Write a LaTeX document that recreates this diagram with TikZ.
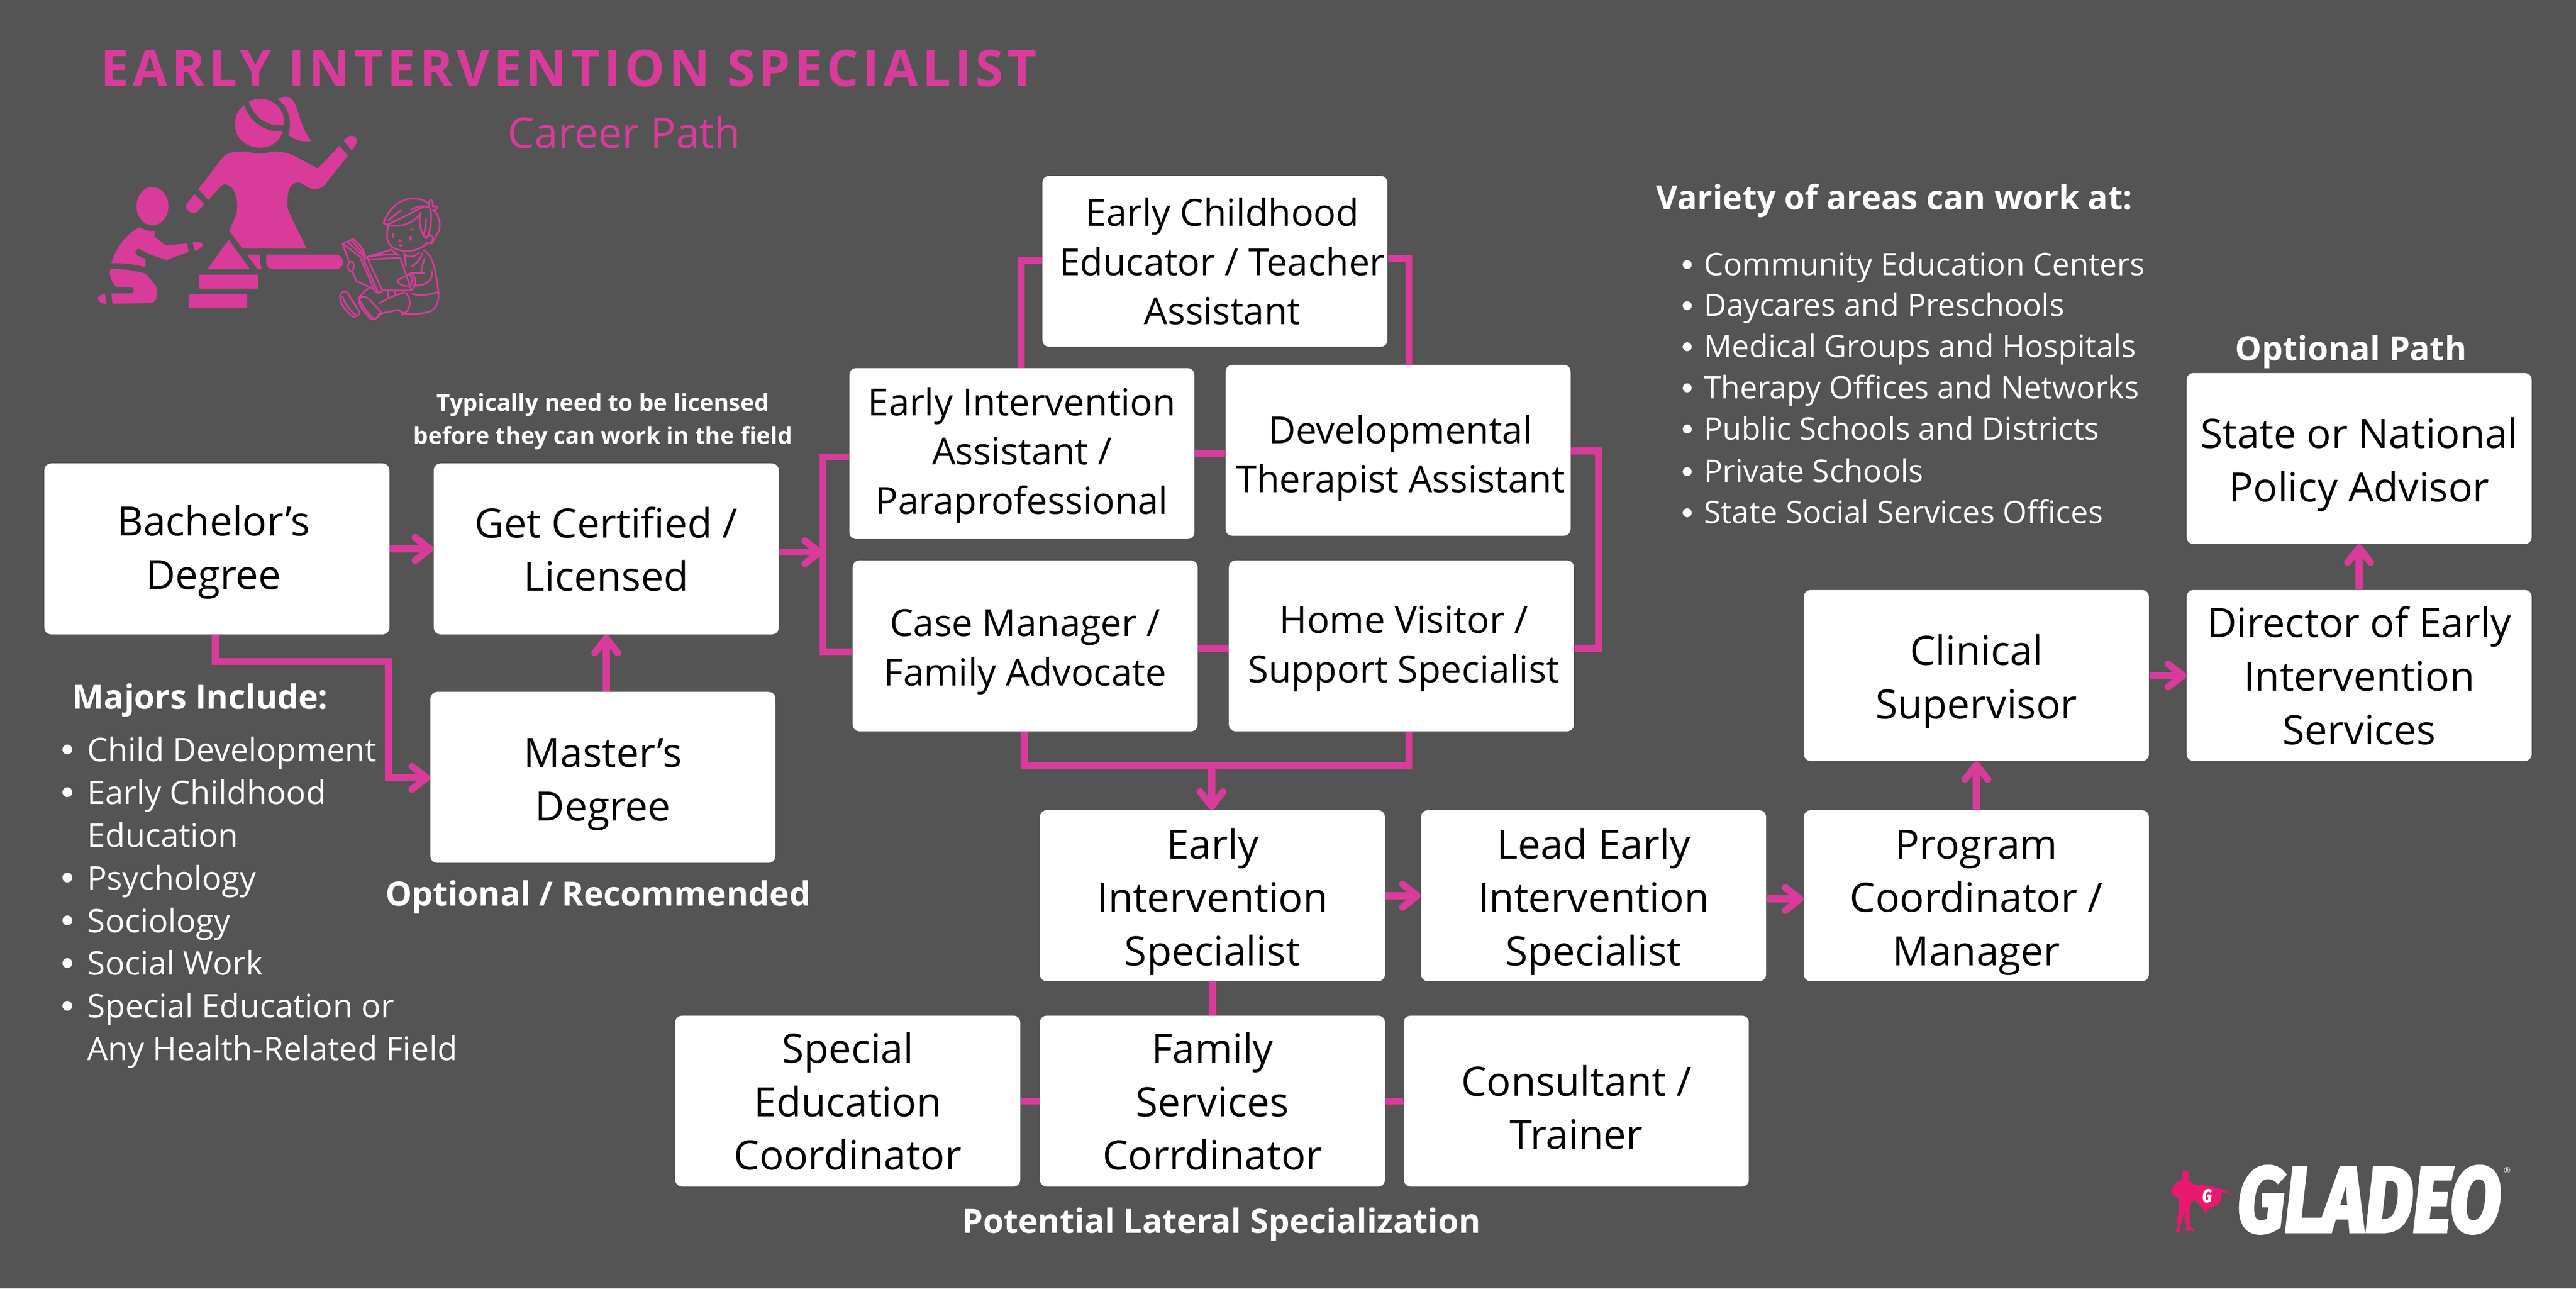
\documentclass[tikz,border=0pt]{standalone}
\usepackage{fontspec}
\setmainfont{Open Sans}
\newfontfamily\logofont[FakeBold=4]{Fira Sans}
\usetikzlibrary{arrows.meta}
\definecolor{bg}{HTML}{545454}
\definecolor{pk}{HTML}{D93B9B}
\definecolor{heroc}{HTML}{E9196F}
\newcommand{\fs}[2]{\fontsize{#1}{#2}\selectfont}
\newcommand{\dn}[1]{\rule{0pt}{#1pt}}
\tikzset{
  x=1pt,y=-1pt,
  box/.style={fill=white,rounded corners=4pt,inner sep=0pt,minimum width=210pt,minimum height=104pt,align=center,text=black,font=\fs{24.6}{32.5},text depth=0pt},
  boxm/.style={fill=white,rounded corners=4pt,inner sep=0pt,minimum width=210pt,minimum height=104pt,align=center,text=black,font=\fs{22.7}{30}},
  conn/.style={draw=pk,line width=4.3pt,line join=miter},
  arr/.style={conn,-{Straight Barb[length=9pt,width=14pt,line width=4.2pt,round]}},
  ttl/.style={text=white,font=\bfseries\fs{20.3}{25},inner sep=0pt},
  lst/.style={text=white,font=\fs{19.8}{25},inner sep=0pt,anchor=base west},
  dot/.style={fill=white,circle,inner sep=0pt,minimum size=6pt},
  sil/.style={fill=pk,draw=none},
  lineart/.style={draw=pk,line width=1pt,line join=round,line cap=round,fill=none}
}
\begin{document}
\begin{tikzpicture}
\useasboundingbox (0,0) rectangle (1568,784);
\fill[bg] (0,0) rectangle (1568,784);

% title
\node[text=pk,font=\bfseries\fs{30.8}{32},inner sep=0pt,anchor=west] (title) at (61,41.5) {\addfontfeature{LetterSpace=7.7}EARLY INTERVENTION SPECIALIST};
\node[text=pk,font=\fs{25.8}{28},inner sep=0pt] (sub) at (380,80.5) {Career Path};

% teacher icon
\begin{scope}[shift={(45.37,11.34)},x=0.1591pt,y=-0.12297pt]
\fill[sil] (667,410) .. controls (690,395) and (720,393) .. (745,405) .. controls (785,425) and (805,475) .. (802,527) .. controls (740,535) and (685,490) .. (667,410) -- cycle;
\fill[sil] (648,428) .. controls (605,470) and (603,560) .. (640,605) .. controls (690,660) and (775,650) .. (796,558) .. controls (730,565) and (670,510) .. (648,428) -- cycle;
\fill[sil] (778,398) .. controls (795,382) and (825,378) .. (838,410) .. controls (860,460) and (865,540) .. (906,606) .. controls (870,612) and (840,600) .. (818,575) .. controls (832,520) and (825,445) .. (778,398) -- cycle;
\fill[sil] (665,658) .. controls (690,672) and (725,672) .. (750,658) .. controls (800,655) and (830,670) .. (860,692) -- (930,742) -- (1013,630) -- (1046,677) -- (965,810) .. controls (945,850) and (905,855) .. (875,818) .. controls (835,795) and (810,830) .. (815,930) .. controls (816,945) and (820,955) .. (825,970) -- (888,1138) -- (643,1138) -- (592,1050) -- (615,980) .. controls (632,930) and (620,820) .. (575,820) .. controls (565,820) and (557,832) .. (550,842) -- (512,897) -- (474,843) -- (565,690) .. controls (585,655) and (630,658) .. (665,658) -- cycle;
\fill[sil] (1030,605) .. controls (1045,580) and (1060,570) .. (1075,588) .. controls (1088,605) and (1078,625) .. (1060,652) -- cycle;
\fill[sil] (459,868) -- (497,918) -- (470,955) .. controls (455,975) and (420,950) .. (427,920) -- cycle;
\fill[sil] (298,928) ellipse [x radius=61,y radius=95];
\fill[sil] (250,1032) .. controls (270,1050) and (290,1052) .. (308,1050) -- (305,1078) -- (348,1122) -- (430,1113) -- (437,1153) -- (353,1194) -- (290,1168) -- (245,1138) .. controls (230,1145) and (228,1165) .. (240,1172) -- (272,1190) -- (271,1230) .. controls (230,1215) and (180,1208) .. (141,1210) .. controls (155,1140) and (200,1060) .. (250,1032) -- cycle;
\fill[sil] (452,1108) .. controls (470,1100) and (495,1110) .. (490,1122) .. controls (485,1135) and (470,1148) .. (459,1148) -- cycle;
\fill[sil] (136,1240) .. controls (190,1235) and (240,1250) .. (272,1262) -- (310,1320) .. controls (325,1350) and (315,1400) .. (295,1408) -- (145,1410) -- (141,1360) -- (215,1360) .. controls (232,1360) and (232,1330) .. (215,1330) -- (165,1330) .. controls (140,1310) and (133,1270) .. (136,1240) -- cycle;
\fill[sil] (116,1362) -- (123,1412) .. controls (95,1412) and (80,1385) .. (95,1372) .. controls (100,1368) and (110,1364) .. (116,1362) -- cycle;
\fill[sil] (590,1093) -- (671,1240) -- (508,1240) -- cycle;
\fill[sil] (660,1168) -- (710,1168) -- (710,1205) .. controls (710,1220) and (715,1230) .. (718,1240) -- (700,1240) -- cycle;
\fill[sil] (733,1168) -- (1000,1168) .. controls (1020,1170) and (1027,1190) .. (1027,1205) .. controls (1027,1225) and (1015,1240) .. (1000,1240) -- (760,1240) .. controls (740,1240) and (733,1220) .. (733,1200) -- cycle;
\fill[sil] (478,1268) rectangle (702,1336);
\fill[sil] (437,1365) rectangle (661,1433);
% boy
\draw[lineart] (1182,1012) .. controls (1200,940) and (1250,885) .. (1300,890) .. controls (1330,892) and (1350,905) .. (1358,925) .. controls (1352,905) and (1362,890) .. (1368,900) .. controls (1372,910) and (1370,925) .. (1372,930) .. controls (1380,925) and (1390,930) .. (1388,938) .. controls (1385,945) and (1375,948) .. (1372,948) .. controls (1400,975) and (1405,1040) .. (1385,1070) .. controls (1378,1090) and (1372,1100) .. (1365,1115);
\draw[lineart] (1182,1012) -- (1195,1020) .. controls (1250,990) and (1300,950) .. (1335,932);
\draw[lineart] (1198,1022) .. controls (1240,1032) and (1295,1022) .. (1325,960) .. controls (1313,1010) and (1325,1060) .. (1345,1088);
\draw[lineart] (1200,1000) .. controls (1215,980) and (1235,960) .. (1250,950);
\draw[lineart] (1290,945) .. controls (1310,925) and (1340,925) .. (1358,935);
\draw[lineart] (1358,935) .. controls (1370,970) and (1365,1030) .. (1350,1085);
\draw[lineart] (1345,990) .. controls (1345,1020) and (1340,1050) .. (1335,1070);
\draw[lineart] (1200,1025) .. controls (1190,1080) and (1195,1125) .. (1230,1140) .. controls (1270,1160) and (1320,1150) .. (1350,1110);
\draw[lineart] (1342,1088) .. controls (1350,1062) and (1378,1070) .. (1370,1095) .. controls (1365,1115) and (1350,1115) .. (1345,1108);
\fill[pk] (1219,1073) ellipse [x radius=5,y radius=12];
\fill[pk] (1285,1087) ellipse [x radius=6,y radius=13];
\fill[pk] (1290,1043) ellipse [x radius=7,y radius=4];
\draw[lineart] (1245,1095) .. controls (1240,1098) and (1245,1103) .. (1250,1103);
\draw[lineart] (1242,1120) .. controls (1245,1125) and (1252,1125) .. (1255,1120);
\draw[lineart] (1260,1160) .. controls (1265,1180) and (1300,1185) .. (1315,1160);
\draw[lineart] (1262,1165) -- (1268,1225);
\draw[lineart] (1330,1160) .. controls (1325,1190) and (1305,1215) .. (1290,1225);
\draw[lineart] (1335,1145) .. controls (1370,1170) and (1380,1230) .. (1392,1352) .. controls (1360,1365) and (1320,1375) .. (1290,1360);
\draw[lineart] (1340,1185) .. controls (1332,1215) and (1325,1240) .. (1327,1258);
\draw[lineart] (1285,1258) -- (1337,1258);
\draw[lineart] (1368,1250) .. controls (1370,1300) and (1340,1325) .. (1295,1320);
\draw[lineart] (1290,1262) .. controls (1312,1290) and (1305,1320) .. (1295,1340);
\draw[lineart] (1025,1115) -- (1040,1105) -- (1065,1090) .. controls (1095,1120) and (1115,1160) .. (1112,1185);
\draw[lineart] (1025,1115) .. controls (1035,1150) and (1045,1180) .. (1050,1205);
\draw[lineart] (1062,1250) -- (1078,1298) -- (1150,1342);
\draw[lineart] (1030,1118) -- (1095,1180);
\draw[lineart] (1045,1105) -- (1105,1175);
\draw[lineart] (1060,1098) -- (1110,1170);
\draw[lineart] (1095,1190) -- (1120,1185) -- (1178,1345) -- (1165,1358) -- (1150,1350) -- cycle;
\draw[lineart] (1105,1190) -- (1160,1350);
\draw[lineart] (1115,1182) .. controls (1160,1160) and (1190,1155) .. (1210,1142) -- (1240,1170);
\draw[lineart] (1125,1192) -- (1245,1183) -- (1290,1345) -- (1178,1345);
\draw[lineart] (1120,1180) .. controls (1160,1170) and (1200,1165) .. (1232,1165);
\draw[lineart] (1055,1203) .. controls (1045,1210) and (1042,1240) .. (1055,1250) .. controls (1068,1248) and (1072,1225) .. (1065,1205) -- cycle;
\draw[lineart] (1235,1298) .. controls (1240,1285) and (1265,1280) .. (1280,1262) .. controls (1295,1285) and (1295,1310) .. (1280,1325) .. controls (1260,1325) and (1240,1315) .. (1235,1298) -- cycle;
\draw[lineart] (1392,1352) .. controls (1395,1400) and (1385,1450) .. (1340,1455) .. controls (1300,1465) and (1260,1470) .. (1240,1440);
\draw[lineart] (1265,1355) .. controls (1295,1390) and (1285,1450) .. (1250,1465);
\draw[lineart] (1260,1355) .. controls (1220,1370) and (1180,1395) .. (1165,1410);
\draw[lineart] (1240,1440) .. controls (1210,1450) and (1180,1455) .. (1160,1465);
\draw[lineart] (1200,1350) -- (1200,1380);
\draw[lineart] (1225,1350) -- (1225,1362);
\draw[lineart] (1030,1350) .. controls (1005,1360) and (1010,1420) .. (1065,1475) .. controls (1085,1475) and (1095,1460) .. (1085,1440) -- (1050,1370) .. controls (1045,1350) and (1035,1345) .. (1030,1350) -- cycle;
\draw[lineart] (1025,1375) .. controls (1035,1410) and (1050,1440) .. (1075,1465);
\draw[lineart] (1095,1380) .. controls (1080,1395) and (1090,1430) .. (1135,1488) .. controls (1155,1490) and (1165,1470) .. (1175,1455) -- (1125,1385) .. controls (1115,1375) and (1100,1375) .. (1095,1380) -- cycle;
\draw[lineart] (1095,1400) .. controls (1105,1430) and (1120,1455) .. (1140,1480);
\draw[lineart] (1085,1385) .. controls (1100,1365) and (1110,1345) .. (1125,1335);
\end{scope}

% boxes
\node[box,text depth=2pt] (bach) at (132,334) {\hspace*{-4pt}Bachelor’s\\\hspace*{-4pt}Degree};
\node[box] (cert) at (369,334) {Get Certified /\\Licensed};
\node[box] (mast) at (367,473) {\dn{20}Master’s\\Degree};
\node[boxm] (ece) at (739.5,159) {\hspace*{9pt}Early Childhood\\\hspace*{9pt}Educator / Teacher\\\hspace*{9pt}Assistant};
\node[boxm] (eia) at (622,276) {\dn{19}Early Intervention\\Assistant /\\Paraprofessional};
\node[boxm] (dta) at (851,274) {\dn{27}\hspace*{3pt}Developmental\\\hspace*{3pt}Therapist Assistant};
\node[boxm] (case) at (624,393) {\dn{24}Case Manager /\\Family Advocate};
\node[boxm] (home) at (853,393) {\dn{20}\hspace*{3pt}Home Visitor /\\\hspace*{3pt}Support Specialist};
\node[box] (eis) at (738,545) {\dn{20}Early\\Intervention\\Specialist};
\node[box] (lead) at (970,545) {\dn{20}Lead Early\\Intervention\\Specialist};
\node[box] (prog) at (1203,545) {\dn{20}Program\\Coordinator /\\Manager};
\node[box] (clin) at (1203,411) {\dn{20}Clinical\\Supervisor};
\node[box] (dir) at (1436,411) {Director of Early\\Intervention\\Services};
\node[box] (state) at (1436,279) {\dn{20}State or National\\Policy Advisor};
\node[box] (spec) at (516,670) {Special\\Education\\Coordinator};
\node[box] (fam) at (738,670) {Family\\Services\\Corrdinator};
\node[box] (cons) at (959.5,670) {\dn{26}Consultant /\\Trainer};

% connector junctions
\coordinate (jl) at (501,336);
\coordinate (jb) at (737.5,466);
\coordinate (jm) at (236.5,402.5);

% connectors
\draw[arr] (bach.east) -- (cert.west);
\draw[arr] (cert.east |- jl) -- (jl);
\draw[arr] (mast.north -| 369,0) -- (cert.south -| 369,0);
\draw[conn] (eia.west |- 0,278) -| (jl) |- (case.west |- 0,396.5);
\draw[conn] (ece.west |- 0,158.5) -| (621.5,224);
\draw[conn] (ece.east |- 0,157.5) -| (857.5,222);
\draw[conn] (eia.east |- 0,276) -- (dta.west |- 0,276);
\draw[conn] (case.east |- 0,394.5) -- (home.west |- 0,394.5);
\draw[conn] (dta.east |- 0,274.5) -| (973,394.5) -- (home.east |- 0,394.5);
\draw[conn] (623.5,445) |- (857.5,466) -- (857.5,445);
\draw[arr] (jb) -- (eis.north -| jb);
\draw[arr] (bach.south -| 131,0) |- (jm) |- (mast.west |- 0,473.3);
\draw[arr] (eis.east) -- (lead.west);
\draw[arr] (lead.east |- 0,547) -- (prog.west |- 0,547);
\draw[arr] (prog.north) -- (clin.south);
\draw[arr] (clin.east) -- (dir.west);
\draw[arr] (dir.north) -- (state.south);
\draw[conn] (eis.south) -- (fam.north);
\draw[conn] (spec.east) -- (fam.west);
\draw[conn] (fam.east) -- (cons.west);

% labels
\node[text=white,font=\bfseries\fs{14.2}{20},align=center,inner sep=0pt] (lic) at (367,256.5) {Typically need to be licensed\\before they can work in the field};
\node[ttl,anchor=west] (maj) at (44,426) {Majors Include:};
\node[ttl] (opt) at (364,546) {Optional / Recommended};
\node[ttl,anchor=west] (var) at (1008,122) {Variety of areas can work at:};
\node[ttl] (optp) at (1431,214) {Optional Path};
\node[ttl] (lat) at (743.5,745) {Potential Lateral Specialization};

\foreach \yy/\tt in {456/Child Development,482/Early Childhood,534/Psychology,560/Sociology,586/Social Work,612/Special Education or}{
  \node[dot] at (41,\yy) {};
  \node[lst] at (53,\yy+7.3) {\tt};
}
\node[lst] (m2) at (53,515.3) {Education};
\node[lst] (m3) at (53,645.3) {Any Health-Related Field};

\foreach \yy/\tt in {161/Community Education Centers,186/Daycares and Preschools,211/Medical Groups and Hospitals,236/Therapy Offices and Networks,261/Public Schools and Districts,287/Private Schools,312/State Social Services Offices}{
  \node[dot,minimum size=5.5pt] at (1027,\yy) {};
  \node[lst,font=\fs{18.9}{25}] at (1037,\yy+6.5) {\tt};
}

% logo
\begin{scope}[shift={(1293.1,680.6)},x=0.1591pt,y=-0.07562pt]
\fill[heroc] (222,430) .. controls (222,418) and (245,418) .. (245,430) -- (245,495) -- (262,520) -- (270,532) .. controls (330,535) and (385,560) .. (417,626) .. controls (395,600) and (380,590) .. (372,595) .. controls (365,620) and (375,680) .. (350,700) .. controls (335,710) and (320,725) .. (312,765) .. controls (300,720) and (280,680) .. (268,655) -- (253,680) -- (250,760) -- (250,870) -- (265,885) -- (268,907) -- (232,900) -- (238,870) -- (230,800) -- (232,745) -- (222,800) -- (212,880) -- (215,915) -- (200,915) -- (195,895) -- (205,860) -- (200,800) -- (208,760) -- (208,640) -- (185,615) -- (177,580) -- (190,540) -- (200,505) -- (222,495) -- cycle;
\end{scope}
\node[text=white,inner sep=0pt,font=\logofont\bfseries\itshape\fs{11}{11},xscale=0.8] (g) at (1343.4,727.6) {G};
\node[text=white,inner sep=0pt,font=\logofont\bfseries\itshape\fs{48}{48},xscale=0.94,yscale=1.16] (logo) at (1442,730) {GLADEO};
\node[text=white,inner sep=0pt,font=\fs{5}{5}] (reg) at (1526,712) {®};
\end{tikzpicture}
\end{document}
